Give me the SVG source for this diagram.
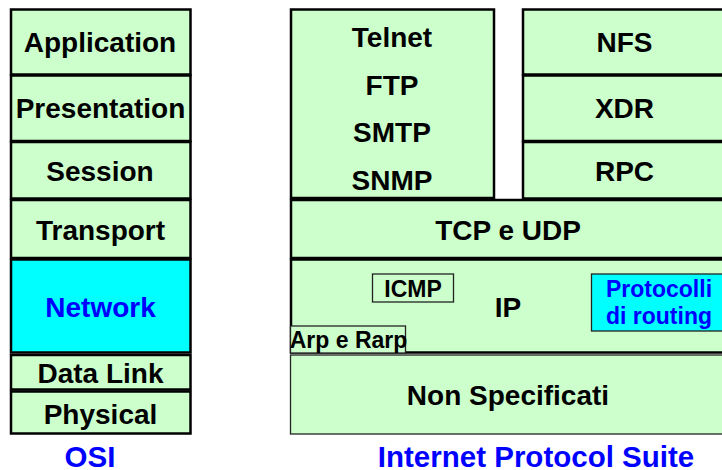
<svg xmlns="http://www.w3.org/2000/svg" width="722" height="470" viewBox="0 0 722 470">
<style>
text{font-family:"Liberation Sans",Arial,sans-serif;font-weight:700;text-anchor:middle;fill:#000}
.l{font-size:28px}
.xl{font-size:29.500px}
.s{font-size:23px}
.b{fill:#00f}
.box{fill:#ccffcc;stroke:#000;stroke-width:2.500}
.thin{fill:#ccffcc;stroke:#222;stroke-width:1.300}
.cy{fill:#00ffff;stroke:#000;stroke-width:2.500}
.cyt{fill:#00ffff;stroke:#222;stroke-width:1.300}
</style>
<rect width="722" height="470" fill="#fff"/>
<g id="osi">
<g id="application"><rect class="box" x="11" y="9.500" width="179.500" height="65"/><text class="l" x="100" y="52">Application</text></g>
<g id="presentation"><rect class="box" x="11" y="75.500" width="179.500" height="65.500"/><text class="l" x="100.500" y="118">Presentation</text></g>
<g id="session"><rect class="box" x="11" y="142" width="179.500" height="56.500"/><text class="l" x="100" y="181">Session</text></g>
<g id="transport"><rect class="box" x="11" y="200" width="179.500" height="58"/><text class="l" x="100.500" y="240">Transport</text></g>
<g id="network"><rect class="cy" x="11" y="259.500" width="179.500" height="93"/><text class="l b" x="100.500" y="317">Network</text></g>
<g id="datalink"><rect class="box" x="11" y="355" width="179.500" height="34.500"/><text class="l" x="100.500" y="383">Data Link</text></g>
<g id="physical"><rect class="box" x="11" y="391.500" width="179.500" height="42"/><text class="l" x="100.500" y="423.500">Physical</text></g>
<text class="xl b" x="90" y="467">OSI</text>
</g>
<g id="ips">
<g id="apps"><rect class="box" x="291" y="9.500" width="203" height="188.500"/><text class="l" x="392" y="47">Telnet</text><text class="l" x="392" y="95">FTP</text><text class="l" x="392" y="142">SMTP</text><text class="l" x="392" y="190">SNMP</text></g>
<g id="nfs"><rect class="box" x="523" y="9.500" width="201" height="65"/><text class="l" x="624.500" y="52">NFS</text></g>
<g id="xdr"><rect class="box" x="523" y="75.500" width="201" height="65.500"/><text class="l" x="624.500" y="118">XDR</text></g>
<g id="rpc"><rect class="box" x="523" y="142" width="201" height="56.500"/><text class="l" x="624.500" y="181">RPC</text></g>
<g id="tcp"><rect class="box" x="291" y="200" width="433" height="58"/><text class="l" x="508" y="240">TCP e UDP</text></g>
<g id="ip"><rect class="box" x="291" y="259.500" width="433" height="93"/><text class="l" x="508" y="317">IP</text></g>
<g id="icmp"><rect class="thin" x="372.500" y="274" width="81" height="28"/><text class="s" x="413" y="297">ICMP</text></g>
<g id="routing"><rect class="cyt" x="591.500" y="274" width="132" height="57"/><text class="s b" x="659" y="297">Protocolli</text><text class="s b" x="659" y="324">di routing</text></g>
<g id="arp"><rect class="thin" x="290.500" y="326" width="115" height="27"/><text class="s" x="348.500" y="348">Arp e Rarp</text></g>
<g id="nonspec"><rect class="thin" x="290.500" y="355" width="433" height="79"/><text class="l" x="508" y="405">Non Specificati</text></g>
<text class="xl b" x="536" y="467">Internet Protocol Suite</text>
</g>
</svg>
